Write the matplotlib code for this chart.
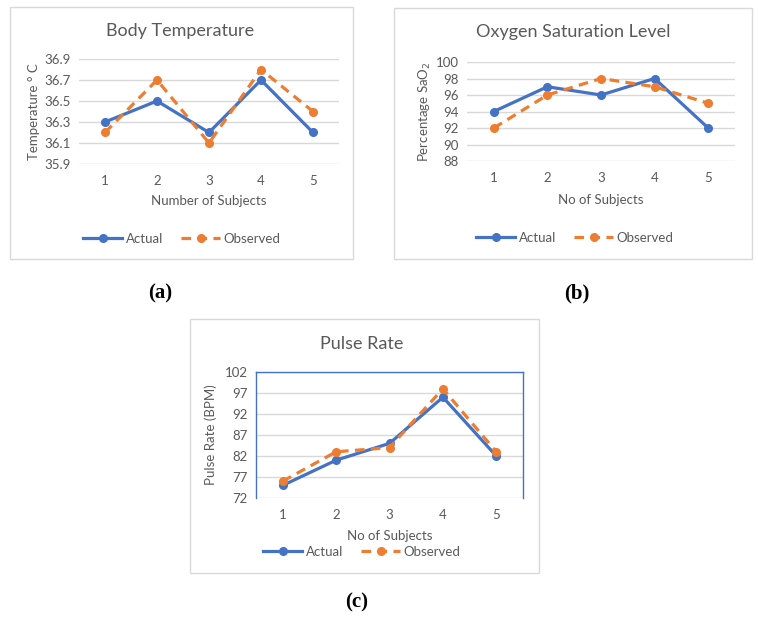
import matplotlib
matplotlib.use("Agg")
import matplotlib.pyplot as plt
from matplotlib.patches import Rectangle

subjects = [1, 2, 3, 4, 5]

temp_actual = [36.3, 36.5, 36.2, 36.7, 36.2]
temp_observed = [36.2, 36.7, 36.1, 36.8, 36.4]
temp_ticks = [35.9, 36.1, 36.3, 36.5, 36.7, 36.9]

oxy_actual = [94, 97, 96, 98, 92]
oxy_observed = [92, 96, 98, 97, 95]
oxy_ticks = [88, 90, 92, 94, 96, 98, 100]

pulse_actual = [75, 81, 85, 96, 82]
pulse_observed = [76, 83, 84, 98, 83]
pulse_ticks = [72, 77, 82, 87, 92, 97, 102]

W, H = 758, 620
BLUE = "#4472C4"
ORANGE = "#ED7D31"
GRID = "#D9D9D9"
TXT = "#595959"
FONT = ["Lato", "DejaVu Sans"]

plt.rcParams['font.family'] = FONT

fig = plt.figure(figsize=(W / 100, H / 100), dpi=100)
fig.patch.set_facecolor("white")


def fx(x):
    return x / W


def fy(y):
    return 1 - y / H


def box(x0, y0, x1, y1):
    fig.patches.append(Rectangle((fx(x0), fy(y1)), fx(x1) - fx(x0), fy(y0) - fy(y1),
                                 transform=fig.transFigure, facecolor="white",
                                 edgecolor="#D9D9D9", linewidth=1.0, zorder=-10))


def panel(rect, title, title_xy, actual, observed, ticks, ylabel, ylabel_x, xlabel, xlabel_y,
          legend_xy, frame=False):
    x0, y0, x1, y1 = rect
    ax = fig.add_axes([fx(x0), fy(y1), fx(x1) - fx(x0), fy(y0) - fy(y1)])
    ax.set_zorder(5)
    ax.set_facecolor("none")
    ax.set_xlim(0.5, 5.5)
    ax.set_ylim(ticks[0], ticks[-1])
    ax.set_yticks(ticks)
    ax.set_yticklabels([f"{t:g}" if isinstance(t, int) else f"{t:.1f}" for t in ticks])
    ax.set_xticks(subjects)
    ax.grid(axis="y", color=GRID, linewidth=1.0)
    ax.set_axisbelow(True)
    ax.tick_params(length=0, labelsize=9.5, labelcolor=TXT, pad=6)
    ax.tick_params(axis="x", pad=8)
    for s in ax.spines.values():
        s.set_visible(False)
    if frame:
        for k in ("left", "top", "right"):
            ax.spines[k].set_visible(True)
            ax.spines[k].set_color(BLUE)
            ax.spines[k].set_linewidth(1.0)
    la, = ax.plot(subjects, actual, color=BLUE, lw=2.3, marker="o", ms=5.5, label="Actual",
                  clip_on=False, zorder=3)
    lo, = ax.plot(subjects, observed, color=ORANGE, lw=2.3, ls=(0, (3, 2)), marker="o", ms=5.5,
                  label="Observed", clip_on=False, zorder=4)
    fig.text(fx(title_xy[0]), fy(title_xy[1]), title, ha="center", va="center",
             fontsize=13, color=TXT)
    fig.text(fx(ylabel_x), fy((y0 + y1) / 2), ylabel, ha="center", va="center",
             rotation=90, fontsize=9.5, color=TXT)
    fig.text(fx((x0 + x1) / 2), fy(xlabel_y), xlabel, ha="center", va="center",
             fontsize=9.5, color=TXT)
    fig.legend(handles=[la, lo], loc="center", bbox_to_anchor=(fx(legend_xy[0]), fy(legend_xy[1])),
               ncol=2, frameon=False, fontsize=9.5, handlelength=2.9, columnspacing=1.4,
               handletextpad=0.3, labelcolor=TXT)
    return ax


box(10, 7, 353, 259)
box(394, 8, 752, 259)
box(190, 319, 539, 573)

panel((79, 59, 339, 164), "Body Temperature", (180, 31), temp_actual, temp_observed, temp_ticks,
      "Temperature ° C", 34, "Number of Subjects", 201, (182, 239))
panel((467, 62, 735, 161), "Oxygen Saturation Level", (573, 32), oxy_actual, oxy_observed, oxy_ticks,
      "Percentage SaO$_2$", 425, "No of Subjects", 200, (575, 238))
panel((256, 372, 523, 498), "Pulse Rate", (362, 344), pulse_actual, pulse_observed, pulse_ticks,
      "Pulse Rate (BPM)", 211, "No of Subjects", 536, (362, 552), frame=True)

for lab, x, y in [("(a)", 160, 293), ("(b)", 577, 293), ("(c)", 357, 602)]:
    fig.text(fx(x), fy(y), lab, ha="center", va="center", fontsize=15, fontweight="bold",
             family="Liberation Serif", color="black")

fig.savefig("out.png", dpi=100, facecolor="white")
